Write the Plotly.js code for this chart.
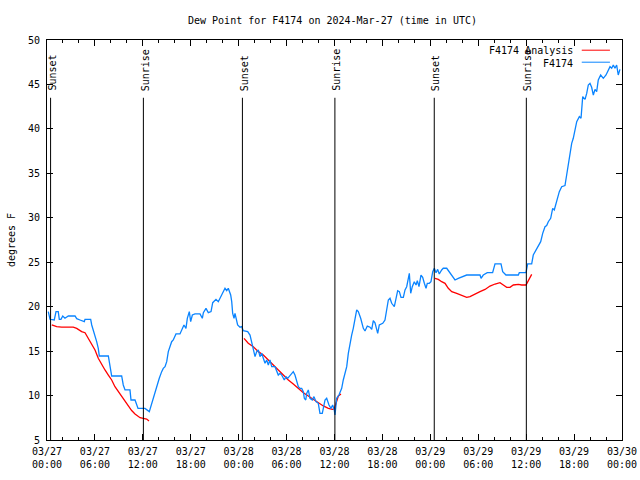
<!DOCTYPE html>
<html>
<head>
<meta charset="utf-8">
<script src="https://cdn.plot.ly/plotly-3.0.1.min.js"></script>
<style>html,body{margin:0;padding:0;background:#fff;}#chart{width:640px;height:480px;}</style>
</head>
<body>
<div id="chart"></div>
<script>
// Hours since 2024-03-27 00:00 UTC
const stationHours = [0.16,0.38,0.91,1.13,1.41,1.54,1.75,1.97,2.25,2.67,3.51,3.72,4.13,4.67,4.76,5.47,5.6,5.8,6.01,6.22,6.42,6.55,7.68,7.89,8.1,9.35,9.55,9.77,10.39,10.52,11.02,11.4,12.27,12.81,13.11,13.44,14.06,14.36,14.56,14.78,14.99,15.19,15.4,15.61,15.81,16.15,16.65,16.87,17.15,17.4,17.57,17.82,17.99,18.2,18.53,19.16,19.45,19.58,19.91,20.2,20.54,20.75,21.16,21.45,21.66,22.0,22.29,22.5,22.7,23.0,23.13,23.25,23.42,23.54,23.67,23.87,24.17,24.38,24.58,25.13,25.42,25.63,25.83,26.05,26.26,26.46,26.67,26.88,27.09,27.3,27.51,27.71,27.92,28.14,28.55,28.76,28.96,29.18,29.39,29.71,29.93,30.14,30.43,30.84,31.05,31.27,31.47,31.68,31.89,32.1,32.22,32.4,32.52,32.72,32.93,33.22,33.43,33.68,33.97,34.18,34.47,34.6,34.81,35.02,35.31,35.56,35.77,35.97,36.06,36.19,36.27,36.56,36.9,37.1,37.31,37.53,37.73,37.94,38.15,38.35,38.57,38.78,38.98,39.28,39.61,39.82,40.11,40.45,40.66,40.86,41.07,41.29,41.41,41.61,42.04,42.32,42.54,42.74,42.95,43.16,43.49,43.7,43.91,44.12,44.33,44.62,44.83,45.04,45.24,45.37,45.54,45.74,45.99,46.21,46.37,46.58,46.83,47.04,47.25,47.46,47.62,47.87,48.08,48.3,48.5,48.71,48.92,49.12,49.42,49.62,50.05,50.46,50.68,51.09,51.5,52.55,54.22,54.35,54.63,55.13,55.8,56.1,56.85,57.06,57.47,59.02,59.14,59.98,60.19,60.69,60.89,61.11,61.52,61.82,62.07,62.36,62.57,62.77,63.07,63.32,63.52,63.82,64.15,64.45,64.86,65.07,65.28,65.49,65.7,65.9,66.11,66.33,66.66,66.87,67.08,67.37,67.58,67.78,67.99,68.2,68.41,68.62,68.83,69.03,69.33,69.66,70.0,70.29,70.5,70.71,70.91,71.12,71.33,71.53,71.74];
const stationDewPoint = [19.44,18.58,18.5,19.44,19.44,18.58,18.58,18.95,18.7,18.95,18.95,18.65,18.5,18.31,18.58,18.58,17.94,17.38,16.81,16.06,15.31,14.45,14.45,13.06,12.2,12.2,11.19,10.63,10.63,9.5,9.5,8.56,8.56,8.19,9.13,9.95,11.94,12.69,13.06,13.25,13.81,14.94,15.5,16.06,16.25,16.93,16.93,17.38,17.94,17.56,18.69,19.44,18.31,19.06,19.18,19.18,18.69,19.32,19.81,19.32,19.44,20.45,20.82,20.56,20.94,21.57,22.07,21.8,22.07,21.31,20.56,19.25,18.69,19.25,18.58,17.94,17.69,17.75,17.3,17.19,16.81,15.88,15.13,14.38,14.94,15.13,14.38,14.75,14.19,13.63,14.0,13.44,14.0,13.25,13.25,12.69,12.31,12.5,12.31,11.75,12.12,11.94,12.31,12.69,12.31,11.56,11.0,10.81,10.81,10.44,9.69,9.5,10.25,10.63,9.69,9.5,9.88,9.31,9.13,8.0,8.0,8.56,9.5,9.69,8.94,8.56,8.94,8.38,7.81,8.94,9.69,10.06,10.81,11.75,12.5,13.25,14.75,15.88,16.81,17.56,18.69,19.63,19.44,18.69,17.56,17.26,17.82,17.69,17.44,18.44,18.19,17.38,17.0,17.94,18.13,18.5,20.0,20.75,20.94,20.38,20.0,20.94,21.8,21.69,21.05,21.05,21.88,22.25,23.19,23.75,21.5,22.25,22.81,22.44,22.93,22.25,23.56,23.3,22.63,22.07,22.63,22.63,22.81,23.94,24.32,23.82,24.19,23.68,24.13,24.32,24.32,23.75,23.56,23.0,23.19,23.56,23.56,23.19,23.56,23.82,23.82,24.81,24.81,23.94,23.56,23.56,23.82,23.82,24.81,24.81,25.81,26.19,26.75,27.31,28.25,29.0,29.12,29.56,29.94,31.06,30.88,32.0,32.94,33.5,33.62,34.81,36.13,37.25,38.38,38.94,39.88,40.81,41.38,41.19,43.63,43.32,43.99,44.94,45.13,44.68,43.81,44.45,44.19,45.5,46.06,45.69,46.06,46.63,47.0,46.82,47.19,46.82,47.19,46.06,46.7];

const analysisHours = [0.6,1.21,1.83,3.29,3.72,4.34,4.76,5.17,5.6,6.01,6.42,6.85,7.26,7.68,8.1,8.51,8.93,9.35,9.77,10.18,10.6,11.02,11.65,12.06,12.48,12.77,18,24.67,25.2,25.83,26.46,27.09,27.71,28.34,28.96,29.59,30.22,30.84,31.47,32.1,32.72,33.35,33.97,34.6,35.23,35.73,35.97,36.06,36.27,36.48,36.81,42,48.58,49.0,49.42,49.84,50.25,50.68,51.3,51.93,52.55,52.97,53.59,54.22,54.85,55.47,56.1,56.72,57.14,57.56,57.98,58.39,59.02,59.44,59.98,60.27,60.69];
const analysisDewPoint = [17.94,17.75,17.69,17.69,17.56,17.19,17.07,16.44,15.69,15.13,14.19,13.44,12.88,12.31,11.75,11.0,10.44,9.88,9.39,8.75,8.31,7.93,7.51,7.44,7.36,7.14,null,16.44,15.88,15.5,14.94,14.56,14.0,13.44,12.88,12.31,11.75,11.3,10.81,10.32,9.95,9.57,9.2,8.83,8.56,8.44,8.5,8.75,9.31,9.95,10.18,null,23.19,23.07,22.81,22.63,22.07,21.69,21.5,21.31,21.05,21.13,21.43,21.69,21.94,22.32,22.55,22.7,22.44,22.18,22.18,22.44,22.51,22.44,22.44,23.0,23.63];

const eventHours = [0.45,12.07,24.47,36.05,48.49,60.02];
const eventLabels = ["Sunset","Sunrise","Sunset","Sunrise","Sunset","Sunrise"];

const seriesNames = ["F4174 Analysis","F4174"];
const seriesColors = ["#ff0000","#0a84ff"];

const base = Date.UTC(2024,2,27);
function toDate(h){
  const d = new Date(base + h*3600000);
  return d.toISOString().replace('T',' ').replace('Z','');
}

const FONT = {family:"DejaVu Sans Mono, monospace", size:10, color:"#000"};

const traces = [
  {x: analysisHours.map(toDate), y: analysisDewPoint, type:'scatter', mode:'lines',
   line:{color:seriesColors[0], width:1.3}, connectgaps:false, name:seriesNames[0], showlegend:false, hoverinfo:'skip'},
  {x: stationHours.map(toDate), y: stationDewPoint, type:'scatter', mode:'lines',
   line:{color:seriesColors[1], width:1.3}, name:seriesNames[1], showlegend:false, hoverinfo:'skip'}
];

const shapes = [];
const annotations = [];
eventHours.forEach((h,i)=>{
  shapes.push({type:'line', xref:'x', yref:'y', x0:toDate(h), x1:toDate(h), y0:5, y1:43.5,
    line:{color:'#000', width:1}});
  annotations.push({xref:'x', yref:'y', x:toDate(h), y:44.05, text:eventLabels[i], textangle:-90,
    showarrow:false, xanchor:'center', yanchor:'bottom', xshift:2, font:FONT});
});

// legend (gnuplot style: text then sample)
const legY = [0.9725, 0.9425];
seriesNames.forEach((n,i)=>{
  annotations.push({xref:'paper', yref:'paper', x:0.918, y:legY[i], text:n, showarrow:false,
    xanchor:'right', yanchor:'middle', font:FONT});
  shapes.push({type:'line', xref:'paper', yref:'paper', x0:0.930, x1:0.979, y0:legY[i]+0.002, y1:legY[i]+0.002,
    line:{color:seriesColors[i], width:1}});
});

const layout = {
  width:640, height:480,
  margin:{l:47, r:18, t:40, b:40},
  paper_bgcolor:'#fff', plot_bgcolor:'#fff',
  font:FONT,
  showlegend:false,
  title:{text:"Dew Point for F4174 on 2024-Mar-27 (time in UTC)", font:FONT,
    xref:'paper', x:0.4965, xanchor:'center', y:1-20/480, yanchor:'middle'},
  xaxis:{type:'date', range:[toDate(0), toDate(72)], tick0:toDate(0), dtick:6*3600000,
    tickformat:'%m/%d<br>%H:%M', ticks:'inside', ticklen:6, tickcolor:'#000', tickwidth:1,
    showline:true, linecolor:'#000', linewidth:1, mirror:'ticks', showgrid:false, zeroline:false,
    tickfont:FONT, ticklabelstandoff:2,
    minor:{dtick:2*3600000, tick0:toDate(0), ticks:'inside', ticklen:3, tickcolor:'#000', showgrid:false}},
  yaxis:{range:[5,50], dtick:5, tick0:5, ticks:'inside', ticklen:6, tickcolor:'#000', tickwidth:1,
    showline:true, linecolor:'#000', linewidth:1, mirror:'ticks', showgrid:false, zeroline:false,
    tickfont:FONT, ticklabelstandoff:4,
    title:{text:'degrees F', font:FONT, standoff:10}},
  shapes:shapes,
  annotations:annotations
};

Plotly.newPlot('chart', traces, layout, {staticPlot:true, displayModeBar:false});
</script>
</body>
</html>
